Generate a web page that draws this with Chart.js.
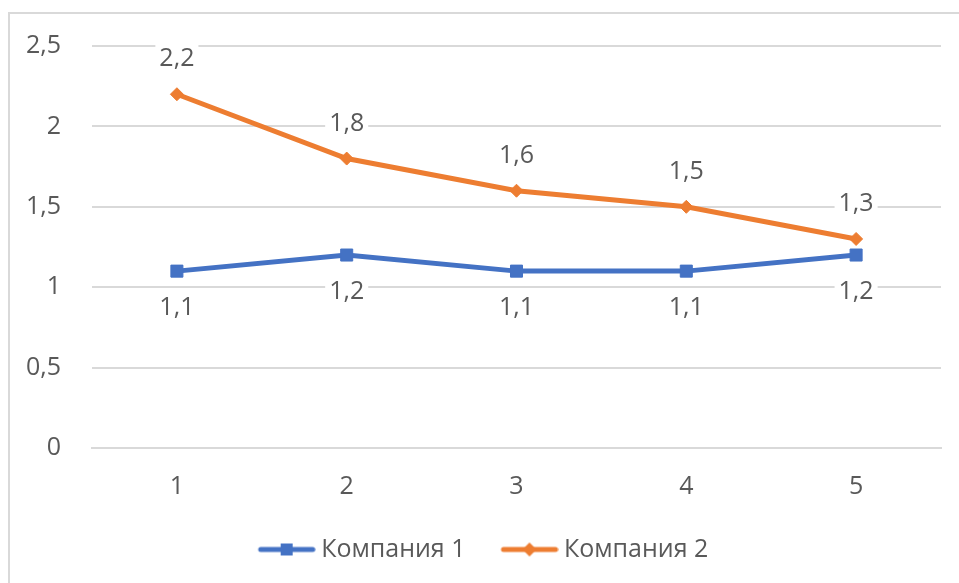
<!DOCTYPE html>
<html>
<head>
<meta charset="utf-8">
<script src="https://cdn.jsdelivr.net/npm/chart.js@4/dist/chart.umd.min.js"></script>
<style>
  html, body { margin: 0; padding: 0; background: #fff; }
  #wrap { position: relative; width: 959px; height: 583px; overflow: hidden; }
  #frame { position: absolute; left: 8px; top: 12px; width: 1000px; height: 700px; border: 2px solid #d9d9d9; box-sizing: border-box; }
  #chart { position: absolute; left: 0; top: 0; }
</style>
</head>
<body>
<div id="wrap">
  <div id="frame"></div>
  <canvas id="chart" width="959" height="583"></canvas>
</div>
<script>
const categories = ['1', '2', '3', '4', '5'];
const company1 = [1.1, 1.2, 1.1, 1.1, 1.2];
const company2 = [2.2, 1.8, 1.6, 1.5, 1.3];
const seriesNames = ['Компания 1', 'Компания 2'];
const yTicks = [0, 0.5, 1, 1.5, 2, 2.5];

const textColor = '#595959';
const fontFamily = "'Open Sans', 'Noto Sans', sans-serif";
const fontSize = 25;

const fmtComma = value => String(value).replace('.', ',');

// legend swatch: line with marker, left part transparent to space the items like Excel
function legendSwatch(color, style) {
  const c = document.createElement('canvas');
  c.width = 90;
  c.height = 16;
  const ctx = c.getContext('2d');
  const x0 = 33;
  const x1 = 89;
  const mid = (x0 + x1) / 2;
  ctx.strokeStyle = color;
  ctx.lineWidth = 5;
  ctx.lineCap = 'round';
  ctx.beginPath();
  ctx.moveTo(x0 + 2, 8);
  ctx.lineTo(x1 - 2, 8);
  ctx.stroke();
  ctx.fillStyle = color;
  ctx.beginPath();
  if (style === 'rect') {
    ctx.rect(mid - 6, 2, 12, 12);
  } else {
    ctx.moveTo(mid, 1);
    ctx.lineTo(mid + 7, 8);
    ctx.lineTo(mid, 15);
    ctx.lineTo(mid - 7, 8);
    ctx.closePath();
  }
  ctx.fill();
  return c;
}

const valueLabels = {
  id: 'valueLabels',
  afterDatasetsDraw(chart) {
    const { ctx } = chart;
    ctx.save();
    ctx.font = `${fontSize}px ${fontFamily}`;
    ctx.textAlign = 'center';
    ctx.textBaseline = 'middle';
    chart.data.datasets.forEach((dataset, i) => {
      const meta = chart.getDatasetMeta(i);
      const offset = i === 0 ? 37 : -35;
      meta.data.forEach((point, index) => {
        const text = fmtComma(dataset.data[index]);
        const w = ctx.measureText(text).width;
        const x = point.x;
        const y = point.y + offset;
        ctx.fillStyle = '#fff';
        ctx.fillRect(x - w / 2 - 4, y - 15, w + 8, 30);
        ctx.fillStyle = textColor;
        ctx.fillText(text, x, y);
      });
    });
    ctx.restore();
  },
};

new Chart(document.getElementById('chart'), {
  type: 'line',
  data: {
    labels: categories,
    datasets: [
      {
        label: seriesNames[0],
        data: company1,
        borderColor: '#4472C4',
        backgroundColor: '#4472C4',
        borderWidth: 5,
        pointStyle: 'rect',
        pointRadius: 8.5,
        pointBorderWidth: 1,
        tension: 0,
        swatch: legendSwatch('#4472C4', 'rect'),
      },
      {
        label: seriesNames[1],
        data: company2,
        borderColor: '#ED7D31',
        backgroundColor: '#ED7D31',
        borderWidth: 5,
        pointStyle: 'rectRot',
        pointRadius: 6.5,
        pointBorderWidth: 1,
        tension: 0,
        swatch: legendSwatch('#ED7D31', 'diamond'),
      },
    ],
  },
  options: {
    responsive: false,
    animation: false,
    devicePixelRatio: 1,
    layout: { padding: { top: 44, right: 18, bottom: 11, left: 0 } },
    plugins: {
      legend: {
        position: 'bottom',
        labels: {
          usePointStyle: true,
          pointStyleWidth: 76,
          padding: 10,
          color: textColor,
          font: { family: fontFamily, size: fontSize },
          generateLabels(chart) {
            return Chart.defaults.plugins.legend.labels.generateLabels(chart).map(item => ({
              ...item,
              pointStyle: chart.data.datasets[item.datasetIndex].swatch,
            }));
          },
        },
      },
      tooltip: { enabled: false },
    },
    scales: {
      x: {
        offset: true,
        grid: { display: false, drawTicks: false },
        border: { display: true, color: '#d9d9d9', width: 2 },
        ticks: { color: textColor, padding: 24, font: { family: fontFamily, size: fontSize } },
        afterFit: scale => { scale.height = 79; },
      },
      y: {
        min: 0,
        max: 2.5,
        afterBuildTicks: scale => { scale.ticks = yTicks.map(value => ({ value })); },
        grid: { color: '#d9d9d9', lineWidth: 2, drawTicks: false },
        border: { display: false },
        ticks: {
          color: textColor,
          padding: 31,
          font: { family: fontFamily, size: fontSize },
          callback: value => fmtComma(value),
        },
        afterFit: scale => { scale.width = 92; },
      },
    },
  },
  plugins: [valueLabels],
});
</script>
</body>
</html>
